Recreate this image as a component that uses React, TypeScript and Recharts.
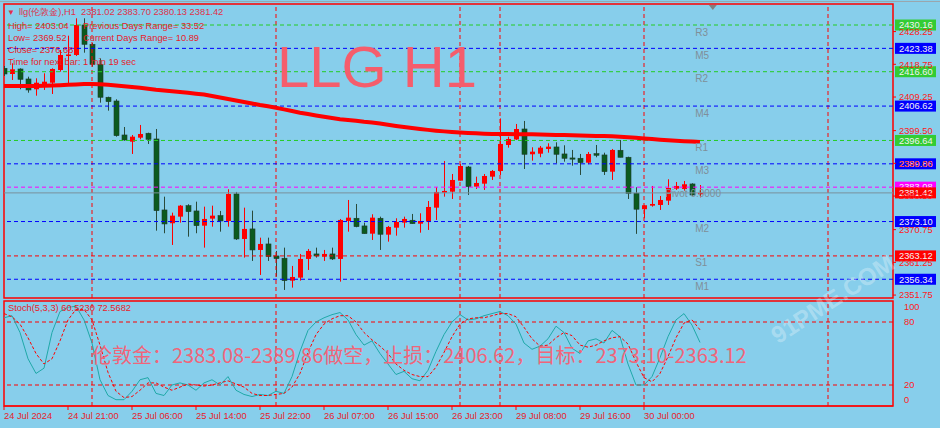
import React from 'react';
import {
  ComposedChart,
  Bar,
  Line,
  XAxis,
  YAxis,
  ReferenceLine,
  ReferenceArea,
  ReferenceDot,
} from 'recharts';

// ---- hourly OHLC for llg (London gold), H1 ----
const opens = [
  2417.59, 2415.94, 2417.39, 2414.49, 2411.5, 2412.46, 2413.41, 2417.1, 2421.16, 2421.46,
  2430.16, 2424.56, 2418.76, 2409.18, 2408.1, 2398.23, 2396.29, 2397.45, 2398.73, 2397.07,
  2376.46, 2372.6, 2374.52, 2377.71, 2376.17, 2371.9, 2373.94, 2374.81, 2373.27, 2381.11,
  2368.04, 2370.95, 2364.85, 2366.59, 2363.11, 2362.44, 2355.94, 2356.81, 2362.24, 2363.69,
  2362.91, 2363.69, 2362.24, 2373.27, 2374.05, 2371.82, 2369.58, 2374.05, 2369.29, 2371.32,
  2372.78, 2373.47, 2372.48, 2373.07, 2377.13, 2381.48, 2381.77, 2384.97, 2388.94, 2383.23,
  2384.1, 2386.13, 2387.78, 2395.33, 2396.93, 2399.97, 2392.63, 2392.8, 2394.17, 2394.75,
  2392.72, 2391.56, 2391.47, 2390.19, 2392.8, 2392.43, 2387.58, 2393.79, 2391.76, 2381.31,
  2376.68, 2377.71, 2377.91, 2379.16, 2382.64, 2382.56, 2384.01, 2381.02,
];
const highs = [
  2418.26, 2419.05, 2417.59, 2415.16, 2414.69, 2416.14, 2417.59, 2422.91, 2427.06, 2432.11,
  2432.11, 2424.94, 2420.5, 2409.35, 2408.6, 2400.55, 2398.23, 2401.14, 2398.9, 2399.97,
  2380.32, 2375.68, 2377.91, 2378.12, 2378.87, 2377.42, 2377.71, 2376.17, 2382.47, 2381.69,
  2377.13, 2376.26, 2368.42, 2368.42, 2364.56, 2365.52, 2360.21, 2363.69, 2365.14, 2365.52,
  2364.85, 2365.52, 2373.85, 2379.36, 2378.2, 2372.78, 2375.21, 2374.52, 2371.82, 2374.05,
  2374.52, 2375.3, 2375.5, 2379.07, 2383.05, 2390.69, 2386.91, 2389.81, 2389.23, 2386.13,
  2386.91, 2388.07, 2403.04, 2397.74, 2401.43, 2402.3, 2394.66, 2395.04, 2395.82, 2396.11,
  2395.24, 2393.88, 2392.72, 2393.3, 2395.33, 2393.09, 2394.17, 2396.78, 2391.93, 2383.05,
  2377.83, 2383.43, 2380.52, 2385.37, 2384.59, 2384.88, 2384.21, 2383.7,
];
const lows = [
  2415.36, 2414.2, 2411.5, 2410.51, 2409.64, 2411.3, 2410.13, 2416.61, 2412.46, 2421.16,
  2422.12, 2418.06, 2407.61, 2405.29, 2397.74, 2396.58, 2392.72, 2396.98, 2395.62, 2370.45,
  2369.7, 2366.3, 2372.78, 2368.71, 2369.7, 2365.52, 2371.61, 2370.16, 2371.61, 2367.75,
  2362.62, 2361.66, 2357.59, 2361.66, 2357.1, 2353.24, 2353.91, 2355.94, 2359.04, 2362.62,
  2361.66, 2361.95, 2355.65, 2370.16, 2371.44, 2369.58, 2367.75, 2364.85, 2367.26, 2369.0,
  2371.32, 2372.48, 2369.87, 2370.66, 2373.56, 2380.32, 2379.65, 2384.97, 2380.82, 2382.56,
  2382.27, 2385.17, 2386.62, 2394.55, 2396.78, 2388.36, 2390.77, 2391.76, 2393.09, 2390.02,
  2390.48, 2389.32, 2386.62, 2389.73, 2391.76, 2386.62, 2385.17, 2391.76, 2379.65, 2369.52,
  2374.05, 2377.42, 2376.46, 2377.91, 2382.27, 2382.06, 2380.61, 2380.13,
];
const closes = [
  2415.94, 2417.3, 2414.4, 2411.3, 2413.41, 2413.7, 2417.39, 2421.46, 2421.6, 2430.16,
  2424.56, 2418.76, 2409.18, 2407.9, 2398.03, 2396.78, 2397.74, 2398.52, 2396.98, 2376.26,
  2372.4, 2374.81, 2377.71, 2375.97, 2371.9, 2373.85, 2374.81, 2373.27, 2381.11, 2368.04,
  2370.95, 2364.85, 2366.59, 2362.91, 2362.33, 2355.94, 2357.01, 2362.24, 2364.56, 2363.11,
  2363.69, 2362.24, 2373.56, 2374.23, 2371.61, 2369.58, 2374.23, 2369.41, 2371.53, 2372.98,
  2373.85, 2372.48, 2373.27, 2377.33, 2381.69, 2381.98, 2385.17, 2389.23, 2383.23, 2384.3,
  2386.33, 2387.78, 2395.62, 2397.07, 2399.97, 2392.63, 2393.39, 2394.55, 2394.84, 2392.63,
  2391.47, 2391.27, 2390.19, 2392.72, 2392.34, 2387.58, 2393.88, 2391.76, 2381.31, 2376.68,
  2377.83, 2378.2, 2379.36, 2382.85, 2383.43, 2383.92, 2380.82, 2381.42,
];

// long moving average drawn over the candles
const maValues = [
  2412.46, 2412.46, 2412.46, 2412.46, 2412.46, 2412.51, 2412.6, 2412.69, 2412.8, 2412.92,
  2413.01, 2413.04, 2412.98, 2412.8, 2412.57, 2412.37, 2412.17, 2411.93, 2411.64, 2411.35,
  2411.12, 2410.92, 2410.71, 2410.48, 2410.22, 2409.99, 2409.55, 2409.12, 2408.68, 2408.25,
  2407.81, 2407.38, 2406.94, 2406.56, 2406.13, 2405.66, 2405.2, 2404.71, 2404.3, 2403.89,
  2403.52, 2403.17, 2402.82, 2402.59, 2402.35, 2402.06, 2401.83, 2401.54, 2401.19, 2400.85,
  2400.53, 2400.24, 2399.97, 2399.71, 2399.48, 2399.28, 2399.1, 2398.93, 2398.81, 2398.7,
  2398.61, 2398.55, 2398.52, 2398.49, 2398.46, 2398.44, 2398.41, 2398.38, 2398.32, 2398.26,
  2398.2, 2398.15, 2398.09, 2398.03, 2397.97, 2397.91, 2397.83, 2397.71, 2397.57, 2397.42,
  2397.22, 2397.04, 2396.87, 2396.69, 2396.55, 2396.43, 2396.32, 2396.2,
];

// Stochastic(5,3,3): main and signal
const stochMain = [
  84, 86, 70, 45, 31, 36, 70, 90, 94, 95,
  82, 60, 25, 10, 6, 6, 14, 25, 27, 12,
  10, 20, 22, 20, 15, 22, 25, 20, 28, 15,
  11, 9, 11, 10, 14, 12, 28, 52, 72, 80,
  84, 87, 89, 82, 68, 58, 62, 50, 40, 30,
  33, 26, 24, 34, 52, 68, 80, 87, 82, 83,
  86, 88, 90, 86, 78, 60, 54, 57, 64, 76,
  70, 55, 50, 62, 64, 60, 72, 66, 40, 20,
  20, 28, 46, 66, 82, 88, 77, 60.523,
];
const stochSignal = [
  88, 85, 78, 65, 50, 40, 45, 62, 82, 92,
  92, 82, 58, 32, 14, 8, 9, 15, 22, 22,
  18, 15, 18, 21, 20, 19, 20, 22, 24, 21,
  18, 12, 10, 10, 11, 12, 18, 31, 51, 68,
  78, 83, 86, 86, 80, 70, 63, 57, 50, 40,
  34, 30, 28, 28, 37, 51, 66, 78, 83, 84,
  84, 86, 88, 88, 85, 75, 64, 57, 58, 65,
  70, 67, 58, 56, 58, 62, 65, 66, 59, 42,
  27, 23, 31, 47, 65, 79, 82, 72.568,
];

// time axis
const timeTickBars = [0, 8, 16, 24, 32, 40, 48, 56, 64, 72, 80];
const timeTickLabels = [
  '24 Jul 2024', '24 Jul 21:00', '25 Jul 06:00', '25 Jul 14:00', '25 Jul 22:00',
  '26 Jul 07:00', '26 Jul 15:00', '26 Jul 23:00', '29 Jul 08:00', '29 Jul 16:00', '30 Jul 00:00',
];
const separatorBars = [11, 34, 57, 62, 80, 103];

// price scale
const priceTicks = [2428.25, 2418.75, 2409.25, 2399.5, 2390.0, 2380.5, 2370.75, 2361.25, 2351.75];

// pivot levels
const levelNames = ['R3', 'M5', 'R2', 'M4', 'R1', 'M3', 'M2', 'S1', 'M1'];
const levelValues = [2430.16, 2423.38, 2416.6, 2406.62, 2396.64, 2389.86, 2373.1, 2363.12, 2356.34];
const levelColors = ['#22cc22', '#0000ff', '#22cc22', '#0000ff', '#22cc22', '#0000ff', '#0000ff', '#ff0000', '#0000ff'];
const pivotValue = 2383.08;
const lastPrice = 2381.42;

const stochLevels = [80, 20];
const stochTicks = [0, 20, 80, 100];

const X_MIN = 0;
const X_MAX = 111.125;
const Y_MIN = 2350.9;
const Y_MAX = 2436.26;
const LABEL_BAR = 86.4;
const PIVOT_LABEL_BAR = 83.3;
const SHIFT_MARK_BAR = 88.6;

const BG = '#87ceeb';
const FONT = '"Liberation Sans", Arial, sans-serif';
const TXT_RED = '#e8202a';

const candles = opens.map((o, i) => ({
  i,
  o,
  h: highs[i],
  l: lows[i],
  c: closes[i],
  range: [lows[i], highs[i]],
  ma: maValues[i],
}));

const stochData = stochMain.map((k, i) => ({ i, k, d: stochSignal[i] }));

const Candle = (props: any) => {
  const { x, y, width, height, payload } = props;
  if (!payload) return null;
  const { o, c, h, l } = payload;
  const span = h - l || 1;
  const toY = (v: number) => y + ((h - v) / span) * height;
  const up = c >= o;
  const cx = Math.round(x + width / 2) + 0.5;
  const top = toY(Math.max(o, c));
  const bot = toY(Math.min(o, c));
  const body = up ? '#ff0000' : '#0b5a1e';
  const wick = up ? '#ff0000' : '#2a4a3a';
  return (
    <g>
      <line x1={cx} x2={cx} y1={y} y2={y + height} stroke={wick} strokeWidth={1} />
      <rect
        x={cx - 2.5}
        y={top}
        width={5}
        height={Math.max(1.2, bot - top)}
        fill={body}
        stroke={up ? 'none' : '#1e3a2a'}
        strokeWidth={up ? 0 : 0.6}
      />
    </g>
  );
};

const PriceTag = (props: any) => {
  const { viewBox, text, bg, fg } = props;
  if (!viewBox) return null;
  const left = viewBox.x + viewBox.width + 2;
  const cy = viewBox.y;
  return (
    <g>
      <rect x={left} y={cy - 5.5} width={41} height={11} fill={bg} />
      <text x={left + 4} y={cy} dy="0.35em" fontSize={9.3} fontFamily={FONT} fill={fg}>
        {text}
      </text>
    </g>
  );
};

const LevelName = (props: any) => {
  const { viewBox, text } = props;
  if (!viewBox) return null;
  return (
    <text x={viewBox.x} y={viewBox.y + 7} dy="0.35em" fontSize={10} fontFamily={FONT} fill="#7f8f99">
      {text}
    </text>
  );
};

const StochTick = (props: any) => {
  const { x, y, payload } = props;
  const v = payload.value;
  const shift = v === 100 ? 6 : v === 0 ? -6.5 : 0;
  return (
    <text x={x} y={y + shift} dy="0.35em" fontSize={9.3} fontFamily={FONT} fill="#ff1a1a">
      {v}
    </text>
  );
};

const TimeTick = (props: any) => {
  const { x, y, payload } = props;
  const idx = timeTickBars.indexOf(payload.value);
  return (
    <text x={x} y={y} dy="0.71em" fontSize={9.3} fontFamily={FONT} fill={TXT_RED} textAnchor="start">
      {timeTickLabels[idx]}
    </text>
  );
};

const ShiftMark = (props: any) => {
  const { cx, cy } = props;
  return <path d={`M${cx - 4},${cy + 1} L${cx + 4},${cy + 1} L${cx},${cy + 6} Z`} fill="#808080" />;
};

const infoStyle: React.CSSProperties = {
  position: 'absolute',
  fontFamily: FONT,
  fontSize: 9.3,
  color: TXT_RED,
  whiteSpace: 'nowrap',
  lineHeight: '12px',
};

export default function App() {
  return (
    <div style={{ position: 'absolute', left: 0, top: 0, width: 940, height: 428, background: BG, overflow: 'hidden' }}>
      <div style={{ position: 'absolute', left: 0, top: 1, width: 940, height: 1, background: '#9aa6ad' }} />
      <div style={{ position: 'absolute', left: 0, top: 0 }}>
        <ComposedChart width={940} height={300} data={candles} margin={{ top: 4, right: 0, bottom: 2, left: 4 }}>
          <XAxis type="number" dataKey="i" domain={[X_MIN, X_MAX]} hide allowDataOverflow />
          <YAxis
            orientation="right"
            type="number"
            domain={[Y_MIN, Y_MAX]}
            ticks={priceTicks}
            interval={0}
            width={47}
            allowDataOverflow
            axisLine={false}
            tickLine={{ stroke: '#ff0000' }}
            tickSize={3}
            tickMargin={3}
            tick={{ fill: '#ff1a1a', fontSize: 9.3, fontFamily: FONT }}
            tickFormatter={(v: number) => v.toFixed(2)}
          />
          {separatorBars.map((b) => (
            <ReferenceLine key={`sep${b}`} x={b} stroke="#ff0000" strokeDasharray="4 3" ifOverflow="visible" />
          ))}
          {levelValues.map((v, k) => (
            <ReferenceLine
              key={`lv${k}`}
              y={v}
              stroke={levelColors[k]}
              strokeDasharray="4 3"
              label={<PriceTag text={v.toFixed(2)} bg={levelColors[k] === '#22cc22' ? '#33cc33' : levelColors[k]} fg="#f2f2f2" />}
            />
          ))}
          <ReferenceLine
            y={pivotValue}
            stroke="#ff00ff"
            strokeDasharray="4 3"
            label={<PriceTag text={pivotValue.toFixed(2)} bg="#ff00ff" fg="#f2f2f2" />}
          />
          <ReferenceLine
            y={lastPrice}
            stroke="#78909c"
            label={<PriceTag text={lastPrice.toFixed(2)} bg="#ff0000" fg="#f2f2f2" />}
          />
          {levelValues.map((v, k) => (
            <ReferenceDot key={`nm${k}`} x={LABEL_BAR} y={v} r={0} label={<LevelName text={levelNames[k]} />} />
          ))}
          <ReferenceDot
            x={PIVOT_LABEL_BAR}
            y={lastPrice}
            r={0}
            label={(p: any) => (
              <text x={p.viewBox.x - 5} y={p.viewBox.y + 1} dy="0.35em" fontSize={10} fontFamily={FONT} fill="#7f8f99">
                Pivot 0.0000
              </text>
            )}
          />
          <Bar dataKey="range" barSize={5} shape={<Candle />} isAnimationActive={false} />
          <Line dataKey="ma" stroke="#ff0000" strokeWidth={4} dot={false} isAnimationActive={false} type="linear" />
          <ReferenceDot x={SHIFT_MARK_BAR} y={Y_MAX} r={0} shape={<ShiftMark />} ifOverflow="visible" />
          <ReferenceArea
            x1={X_MIN}
            x2={X_MAX}
            y1={Y_MIN}
            y2={Y_MAX}
            fill="none"
            stroke="#ff0000"
            strokeWidth={1.5}
            ifOverflow="visible"
          />
        </ComposedChart>
      </div>

      <div style={{ position: 'absolute', left: 0, top: 300 }}>
        <ComposedChart width={940} height={128} data={stochData} margin={{ top: 1, right: 0, bottom: 0, left: 4 }}>
          <XAxis
            type="number"
            dataKey="i"
            domain={[X_MIN, X_MAX]}
            allowDataOverflow
            ticks={timeTickBars}
            interval={0}
            height={22}
            axisLine={{ stroke: '#ff0000' }}
            tickLine={{ stroke: '#ff0000' }}
            tickSize={4}
            tickMargin={2}
            tick={<TimeTick />}
          />
          <YAxis
            orientation="right"
            type="number"
            domain={[0, 100]}
            ticks={stochTicks}
            interval={0}
            width={47}
            axisLine={false}
            tickLine={false}
            tickMargin={5}
            tick={<StochTick />}
          />
          {separatorBars.map((b) => (
            <ReferenceLine key={`ssep${b}`} x={b} stroke="#ff0000" strokeDasharray="4 3" ifOverflow="visible" />
          ))}
          {stochLevels.map((v) => (
            <ReferenceLine key={`sl${v}`} y={v} stroke="#ff0000" strokeDasharray="4 3" />
          ))}
          <Line dataKey="k" stroke="#20a8a8" strokeWidth={1} dot={false} isAnimationActive={false} type="linear" />
          <Line dataKey="d" stroke="#ff0000" strokeWidth={1} strokeDasharray="3 2" dot={false} isAnimationActive={false} type="linear" />
          <ReferenceArea x1={X_MIN} x2={X_MAX} y1={0} y2={100} fill="none" stroke="#ff0000" strokeWidth={1.5} ifOverflow="visible" />
        </ComposedChart>
      </div>

      {/* header block */}
      <div style={{ ...infoStyle, left: 7, top: 6, color: '#e0304a' }}>
        <span style={{ fontSize: 8, marginRight: 4 }}>▼</span>llg(伦敦金),H1&nbsp;&nbsp;2381.02 2383.70 2380.13 2381.42
      </div>
      <div style={{ ...infoStyle, left: 8, top: 20 }}>High= 2403.04</div>
      <div style={{ ...infoStyle, left: 83, top: 20 }}>Previous Days Range= 33.52</div>
      <div style={{ ...infoStyle, left: 8, top: 32 }}>Low= 2369.52</div>
      <div style={{ ...infoStyle, left: 83, top: 32 }}>Current Days Range= 10.89</div>
      <div style={{ ...infoStyle, left: 8, top: 44 }}>Close= 2376.68</div>
      <div style={{ ...infoStyle, left: 8, top: 56 }}>Time for next bar: 1 min 19 sec</div>

      <div
        style={{
          position: 'absolute',
          left: 277,
          top: 31,
          fontFamily: FONT,
          fontSize: 58,
          color: '#f55d6c',
          whiteSpace: 'nowrap',
          lineHeight: '72px',
        }}
      >
        LLG H1
      </div>

      <div style={{ ...infoStyle, left: 8, top: 302 }}>Stoch(5,3,3) 60.5230 72.5682</div>

      <div
        style={{
          position: 'absolute',
          left: 92,
          top: 341,
          fontFamily: '"Noto Sans CJK SC", sans-serif',
          fontSize: 20,
          color: '#f0657a',
          whiteSpace: 'nowrap',
          lineHeight: '28px',
        }}
      >
        伦敦金：2383.08-2389.86做空，止损：2406.62，目标：2373.10-2363.12
      </div>

      {/* site watermark */}
      <div
        style={{
          position: 'absolute',
          left: 766,
          top: 326,
          fontFamily: FONT,
          fontWeight: 700,
          fontSize: 24,
          color: 'rgba(255,255,255,0.3)',
          whiteSpace: 'nowrap',
          transform: 'rotate(-33deg)',
          transformOrigin: '0 0',
          lineHeight: '28px',
          pointerEvents: 'none',
        }}
      >
        91PME.COM
      </div>
    </div>
  );
}
